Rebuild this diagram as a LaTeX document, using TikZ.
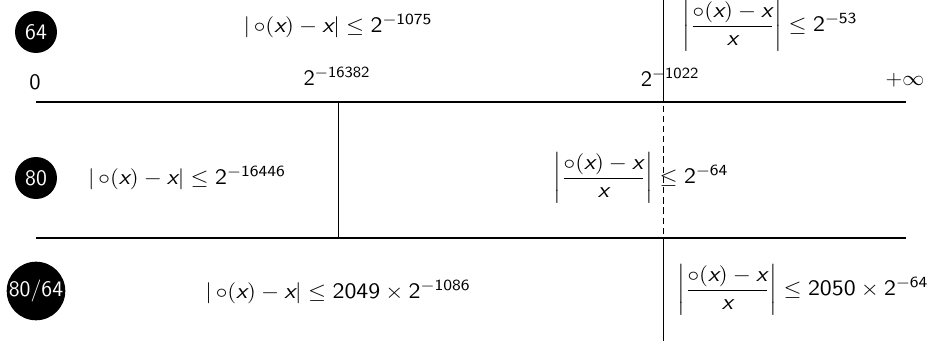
\documentclass[tikz,border=0pt]{standalone}
\usepackage{amsmath}
% sans serif digits and letter x inside math
\DeclareSymbolFont{sfdigits}{TU}{lmss}{m}{n}
\DeclareSymbolFont{sfletters}{TU}{lmss}{m}{sl}
\DeclareMathSymbol{x}{\mathalpha}{sfletters}{`x}
\DeclareMathSymbol{0}{\mathalpha}{sfdigits}{`0}
\DeclareMathSymbol{1}{\mathalpha}{sfdigits}{`1}
\DeclareMathSymbol{2}{\mathalpha}{sfdigits}{`2}
\DeclareMathSymbol{3}{\mathalpha}{sfdigits}{`3}
\DeclareMathSymbol{4}{\mathalpha}{sfdigits}{`4}
\DeclareMathSymbol{5}{\mathalpha}{sfdigits}{`5}
\DeclareMathSymbol{6}{\mathalpha}{sfdigits}{`6}
\DeclareMathSymbol{7}{\mathalpha}{sfdigits}{`7}
\DeclareMathSymbol{8}{\mathalpha}{sfdigits}{`8}
\DeclareMathSymbol{9}{\mathalpha}{sfdigits}{`9}
\newcommand{\rnd}{\mathop{\circ}}
\tikzset{
    axis line/.style  = {line width=1.1pt},
    split line/.style = {line width=0.55pt},
    tag/.style        = {circle, fill=black, text=white, inner sep=0pt,
                         minimum size=0.84cm},
    bound/.style      = {inner sep=0pt, xscale=1.1},
    tick label/.style = {inner sep=0pt, xscale=1.04}
}

\begin{document}
\begin{tikzpicture}[x=0.02cm, y=-0.02cm, font=\sffamily\fontsize{12.6}{15}\selectfont]
\useasboundingbox (0,0) rectangle (928,341);

% Axis and row separator
\coordinate (axL) at (36,102);
\coordinate (axR) at (906,102);
\coordinate (sepL) at (36,238);
\coordinate (sepR) at (906,238);
\draw[axis line] (axL) -- (axR);
\draw[axis line] (sepL) -- (sepR);

% Thresholds
\coordinate (extTop) at (338,102);
\coordinate (extBot) at (338,238);
\coordinate (dblTop) at (663,0);
\coordinate (dblAx) at (663,102);
\coordinate (dblSep) at (663,238);
\coordinate (dblBot) at (663,341);
\draw[split line] (extTop) -- (extBot);
\draw[split line] (dblTop) -- (dblAx);
\draw[split line, dash pattern=on 3.6pt off 2.2pt, dash phase=-2pt] (dblAx) -- (dblSep);
\draw[split line] (dblSep) -- (dblBot);

% Axis labels
\node[tick label] (zero) at (35,82) {$0$};
\node[tick label] (ext) at (337,76) {$2^{-16382}$};
\node[tick label] (dbl) at (670,77) {$2^{-1022}$};
\node[tick label] (inf) at (905,80) {$+\infty$};

% Row 64
\node[tag] (tag64) at (36,32) {64};
\node[bound] (abs64) at (338,26) {$|\rnd(x)-x| \le 2^{-1075}$};
\node[bound] (rel64) at (770,26) {$\left|\dfrac{\rnd(x)-x}{x}\right| \le 2^{-53}$};

% Row 80
\node[tag] (tag80) at (36,178) {80};
\node[bound] (abs80) at (187,178) {$|\rnd(x)-x| \le 2^{-16446}$};
\node[bound] (rel80) at (641,178) {$\left|\dfrac{\rnd(x)-x}{x}\right| \le 2^{-64}$};

% Row 80/64
\node[tag] (tag8064) at (36,291) {80/64};
\node[bound] (abs8064) at (338,292) {$|\rnd(x)-x| \le 2049\times 2^{-1086}$};
\node[bound] (rel8064) at (803,290) {$\left|\dfrac{\rnd(x)-x}{x}\right| \le 2050\times 2^{-64}$};

\end{tikzpicture}
\end{document}
